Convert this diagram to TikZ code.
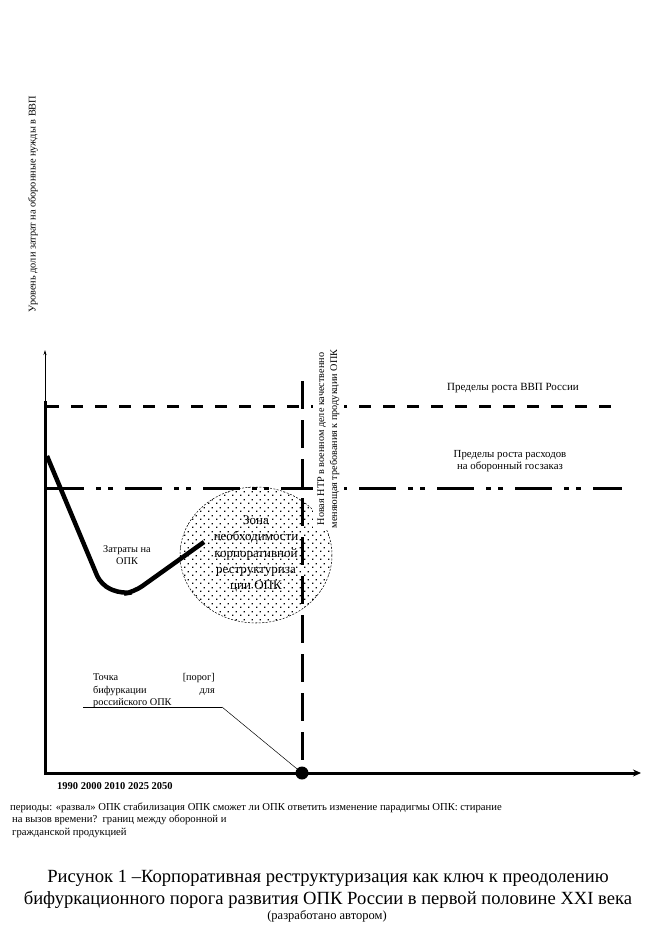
\documentclass[tikz,border=0pt]{standalone}
\usepackage{fontspec}
\setmainfont{Liberation Serif}
\usetikzlibrary{arrows.meta,patterns.meta}
\tikzdeclarepattern{name=sparsedots,type=uncolored,bounding box={(0pt,0pt) and (8pt,8pt)},tile size={(8pt,8pt)},code={\fill (0pt,0pt) rectangle (1.4pt,1.4pt); \fill (4pt,4pt) rectangle (5.4pt,5.4pt);}}
\tikzset{
  txt/.style={inner sep=0pt,font=\fontsize{10.3}{12.5}\selectfont},
  thickline/.style={line width=3pt},
  dashln/.style={line width=3pt,dash pattern=on 12pt off 12pt},
  dashdot/.style={line width=3pt,dash pattern=on 37pt off 12pt on 5pt off 7pt on 5pt off 12pt},
  vdash/.style={line width=3pt,dash pattern=on 28pt off 11pt},
}
\begin{document}
\begin{tikzpicture}[x=1pt,y=-1pt]
\useasboundingbox (0,0) rectangle (648,936);
% axes
\coordinate (O) at (45,773);
\coordinate (ytop) at (45,350);
\coordinate (ythick) at (45,401);
\coordinate (xend) at (641,773);
\draw[line width=1pt,-{Stealth[length=5pt,width=3pt]}] (ythick) -- (ytop);
\draw[thickline] (45,774.5) -- (ythick);
\draw[thickline,-{Stealth[length=8pt,width=7pt]}] (O) -- (xend);
% horizontal limits
\coordinate (gdpL) at (47,406);
\coordinate (gdpR) at (620,406);
\draw[dashln] (gdpL) -- (gdpR);
\coordinate (defL) at (47,488);
\coordinate (defR) at (622,488);
\draw[dashdot] (defL) -- (defR);
% zone ellipse
\path[pattern=sparsedots] (256,555) ellipse [x radius=76,y radius=68];
\draw[line width=0.5pt,dash pattern=on 2pt off 1.5pt] (256,555) ellipse [x radius=76,y radius=68];
% vertical bifurcation line
\coordinate (vtop) at (302,381);
\coordinate (bif) at (302,773);
% NTR label with white background (interrupts the horizontal lines)
\node[txt,rotate=90,align=center,fill=white,inner xsep=2pt,inner ysep=5pt,font=\fontsize{10.2}{13}\selectfont] (ntr) at (328.5,439) {Новая НТР в военном деле качественно\\меняющая требования к продукции ОПК};
\draw[vdash] (vtop) -- (bif);
\fill (bif) circle (6.5pt);
% cost curve
\draw[line width=4.5pt,rounded corners=10pt] (47,456) -- (101,585) -- (122,594) -- (134,592) -- (204,542);
% labels
\node[txt,rotate=90] (ylab) at (33,204) {Уровень доли затрат на оборонные нужды в ВВП};
\node[txt,font=\fontsize{11}{12.5}\selectfont] (gdplab) at (513,388) {Пределы роста ВВП России};
\node[txt,align=center,font=\fontsize{10.8}{11.5}\selectfont] (deflab) at (510,461) {Пределы роста расходов\\на оборонный госзаказ};
\node[txt,align=center] (costlab) at (127,555) {Затраты на\\ОПК};
\node[inner sep=0pt,align=center,font=\fontsize{13}{16.3}\selectfont] (zone) at (256,554) {Зона\\необходимости\\корпоративной\\реструктуриза\\ции ОПК};
% bifurcation point label
\node[txt,anchor=base west] (p1) at (93,680) {Точка};
\node[txt,anchor=base east] (p2) at (215,680) {[порог]};
\node[txt,anchor=base west] (p3) at (93,693) {бифуркации};
\node[txt,anchor=base east] (p4) at (215,693) {для};
\node[txt,anchor=base west] (p5) at (93,705) {российского ОПК};
\coordinate (uL) at (83,707);
\coordinate (uR) at (222,707);
\draw[line width=0.8pt] (uL) -- (uR);
\draw[line width=0.5pt] (uR) -- (bif);
% years
\node[txt,anchor=base west,font=\bfseries\fontsize{10.5}{12}\selectfont] (years) at (57,789) {1990 2000 2010 2025 2050};
% periods
\node[txt,anchor=base west,font=\fontsize{10.65}{12}\selectfont] (per1) at (10,810) {периоды: «развал» ОПК стабилизация ОПК сможет ли ОПК ответить изменение парадигмы ОПК: стирание};
\node[txt,anchor=base west,font=\fontsize{10.65}{12}\selectfont] (per2) at (12,822) {на вызов времени?\ \ границ между оборонной и};
\node[txt,anchor=base west,font=\fontsize{10.65}{12}\selectfont] (per3) at (12,835) {гражданской продукцией};
% caption
\node[inner sep=0pt,align=center,font=\fontsize{18.6}{22}\selectfont] (cap) at (328,889) {Рисунок 1 –Корпоративная реструктуризация как ключ к преодолению\\бифуркационного порога развития ОПК России в первой половине XXI века};
\node[txt,font=\fontsize{12.5}{13}\selectfont] (cap2) at (327,916) {(разработано автором)};
\end{tikzpicture}
\end{document}
